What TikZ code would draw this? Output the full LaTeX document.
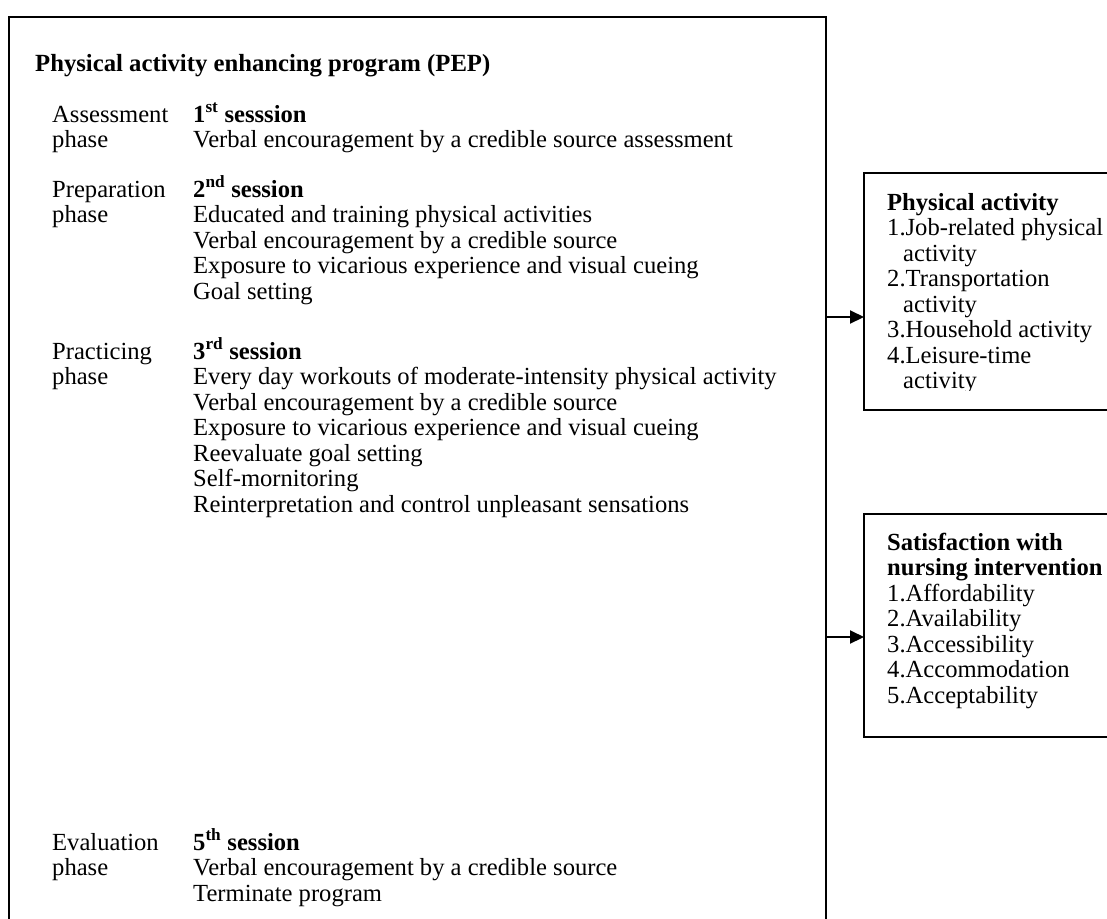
\documentclass[tikz,border=0pt]{standalone}
\usepackage{fontspec}
\setmainfont{Liberation Serif}
\usetikzlibrary{arrows.meta}
\begin{document}
\begin{tikzpicture}[x=1pt,y=-1pt,
  txt/.style={anchor=base west,inner sep=0pt,font=\fontsize{24.6}{25.5}\selectfont},
  ttl/.style={anchor=base west,inner sep=0pt,font=\fontsize{24.7}{27}\selectfont\bfseries},
  frame/.style={line width=2pt,line cap=rect},
  conn/.style={line width=2pt,-{Triangle[length=14pt,width=13pt]}},
  area/.style={draw=none,inner sep=0pt,anchor=north west}]
\useasboundingbox (0,0) rectangle (1107,918);
\clip (0,0) rectangle (1107,918);

% program frame (open at the bottom)
\node[area,minimum width=817pt,minimum height=920pt] (pep) at (9,17) {};
\draw[frame] (pep.south west) -- (pep.north west) -- (pep.north east) -- (pep.south east);

% outcome boxes (open on the right)
\node[area,minimum width=260pt,minimum height=237pt] (pa) at (864,173) {};
\draw[frame] (pa.north east) -- (pa.north west) -- (pa.south west) -- (pa.south east);
\node[area,minimum width=260pt,minimum height=223pt] (sat) at (864,514) {};
\draw[frame] (sat.north east) -- (sat.north west) -- (sat.south west) -- (sat.south east);

% title
\node[ttl] (title) at (35,71) {Physical activity enhancing program (PEP)};

% phase labels
\node[txt] (a1) at (52,122) {Assessment};
\node[txt] (a2) at (52,147.5) {phase};
\node[txt] (b1) at (52,197) {Preparation};
\node[txt] (b2) at (52,222.5) {phase};
\node[txt] (c1) at (52,359) {Practicing};
\node[txt] (c2) at (52,384.5) {phase};
\node[txt] (d1) at (52,850) {Evaluation};
\node[txt] (d2) at (52,875.5) {phase};

% session contents
\node[txt] (s1) at (193,122) {\textbf{1\textsuperscript{st} sesssion}};
\node[txt] (s1a) at (193,147.5) {Verbal encouragement by a credible source assessment};

\node[txt] (s2) at (193,197) {\textbf{2\textsuperscript{nd} session}};
\foreach \t [count=\i] in {Educated and training physical activities,
  Verbal encouragement by a credible source,
  Exposure to vicarious experience and visual cueing,
  Goal setting}
  \node[txt] (s2-\i) at (193,{197+25.5*\i}) {\t};

\node[txt] (s3) at (193,359) {\textbf{3\textsuperscript{rd} session}};
\foreach \t [count=\i] in {Every day workouts of moderate-intensity physical activity,
  Verbal encouragement by a credible source,
  Exposure to vicarious experience and visual cueing,
  Reevaluate goal setting,
  Self-mornitoring,
  Reinterpretation and control unpleasant sensations}
  \node[txt] (s3-\i) at (193,{359+25.5*\i}) {\t};

\node[txt] (s5) at (193,850) {\textbf{5\textsuperscript{th} session}};
\node[txt] (s5a) at (193,875.5) {Verbal encouragement by a credible source};
\node[txt] (s5b) at (193,901) {Terminate program};

% outcome texts (the last line is cut off by the box)
\begin{scope}
\clip (864,173) rectangle (1107,390.5);
\node[txt] (pa0) at (887,210) {\textbf{Physical activity}};
\node[txt] (pa1) at (887,235.5) {1.Job-related physical};
\node[txt] (pa2) at (903,261) {activity};
\node[txt] (pa3) at (887,286.5) {2.Transportation};
\node[txt] (pa4) at (903,312) {activity};
\node[txt] (pa5) at (887,337.5) {3.Household activity};
\node[txt] (pa6) at (887,363) {4.Leisure-time};
\node[txt] (pa7) at (903,388.5) {activity};
\end{scope}

\node[txt] (sat0) at (887,550) {\textbf{Satisfaction with}};
\node[txt] (sat1) at (887,575.5) {\textbf{nursing intervention}};
\foreach \t [count=\i] in {1.Affordability,2.Availability,3.Accessibility,4.Accommodation,5.Acceptability}
  \node[txt] (sat-\i) at (887,{575.5+25.5*\i}) {\t};

% connectors
\coordinate (pain) at (pa.west |- 0,317);
\coordinate (satin) at (sat.west |- 0,637);
\draw[conn] (pep.east |- pain) -- (pain);
\draw[conn] (pep.east |- satin) -- (satin);
\end{tikzpicture}
\end{document}
